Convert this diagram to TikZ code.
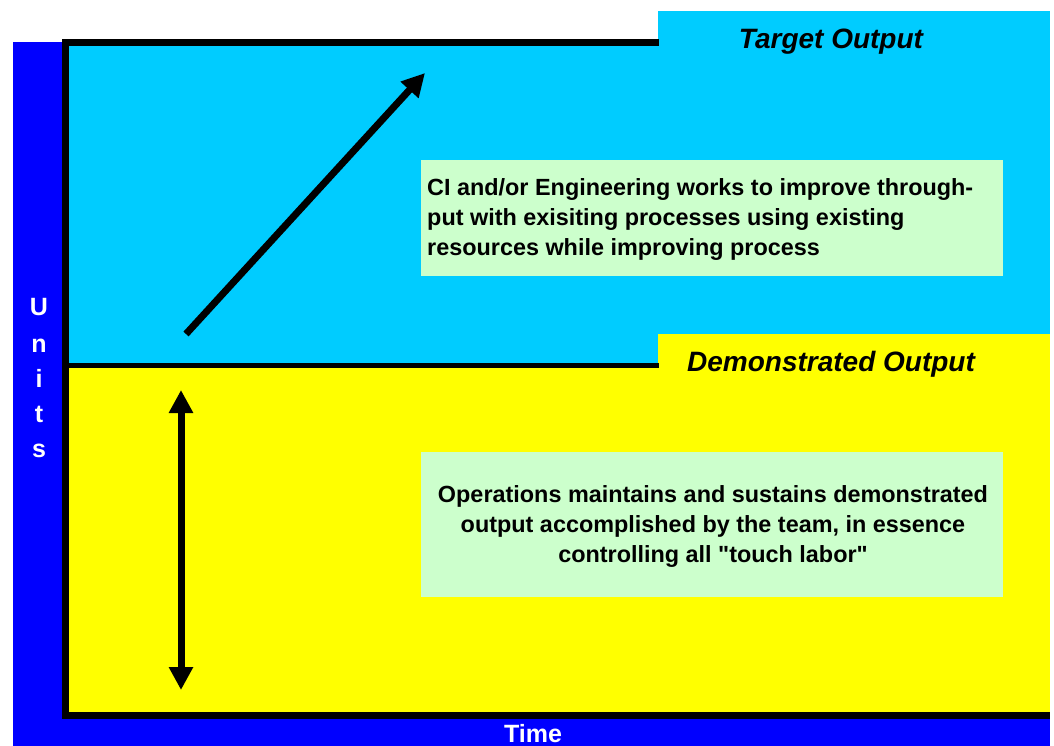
\documentclass[tikz,border=0pt]{standalone}
\usepackage{fontspec}
\setmainfont{Liberation Sans}[Ligatures=TeXOff]
\usetikzlibrary{arrows.meta}
\definecolor{frameblue}{HTML}{0000FF}
\definecolor{targetcyan}{HTML}{00CCFF}
\definecolor{demoyellow}{HTML}{FFFF00}
\definecolor{notegreen}{HTML}{CCFFCC}
\tikzset{
  region/.style={fill=#1, draw=none},
  bar/.style={fill=black, draw=none},
  heading/.style={font=\fontsize{28}{32}\selectfont\bfseries\itshape, inner sep=0pt},
  axislabel/.style={font=\fontsize{25}{28}\selectfont\bfseries, text=white, inner sep=0pt, anchor=base},
  notetext/.style={font=\fontsize{23.4}{30}\selectfont\bfseries, inner sep=0pt},
  bigarrow/.style={line width=7pt, -{Triangle[length=23pt,width=23pt]}},
  bothways/.style={line width=7pt, {Triangle[length=23pt,width=23pt]}-{Triangle[length=23pt,width=23pt]}}
}
\begin{document}
\begin{tikzpicture}[x=1pt,y=-1pt]
\useasboundingbox (0,0) rectangle (1054,746);
% axes band
\fill[region=frameblue] (13,42) rectangle (1050,746);
% the two output bands
\fill[region=targetcyan] (69,46) rectangle (1050,365);
\fill[region=demoyellow] (69,365) rectangle (1050,712);
\fill[region=targetcyan] (658,11) rectangle (1050,334);
\fill[region=demoyellow] (658,334) rectangle (1050,367);
% black frame lines
\fill[bar] (62,39) rectangle (659,46);
\fill[bar] (62,39) rectangle (69,719);
\fill[bar] (62,712) rectangle (1050,719);
\fill[bar] (62,362.7) rectangle (659,367.7);
% note boxes
\fill[region=notegreen] (421,160) rectangle (1003,276);
\fill[region=notegreen] (421,452) rectangle (1003,597);
% headings
\node[heading] (target) at (831,42) {Target Output};
\node[heading] (demo) at (831,364) {Demonstrated Output};
% notes
\node[notetext, align=left, anchor=west] (ci) at (427,220)
  {CI and/or Engineering works to improve through-\\put with exisiting processes using existing\\resources while improving process};
\node[notetext, align=center] (ops) at (713,526)
  {Operations maintains and sustains demonstrated\\output accomplished by the team, in essence\\controlling all "touch labor"};
% axis labels
\node[axislabel] (u) at (39,315) {U};
\node[axislabel] (n) at (39,352) {n};
\node[axislabel] (i) at (39,387) {i};
\node[axislabel] (t) at (39,422) {t};
\node[axislabel] (s) at (39,457) {s};
\node[axislabel] (time) at (533,742) {Time};
% arrows
\coordinate (climbstart) at (186,334);
\coordinate (climbend) at (425,73);
\coordinate (holdtop) at (181,390);
\coordinate (holdbottom) at (181,690);
\draw[bigarrow] (climbstart) -- (climbend);
\draw[bothways] (holdtop) -- (holdbottom);
\end{tikzpicture}
\end{document}
